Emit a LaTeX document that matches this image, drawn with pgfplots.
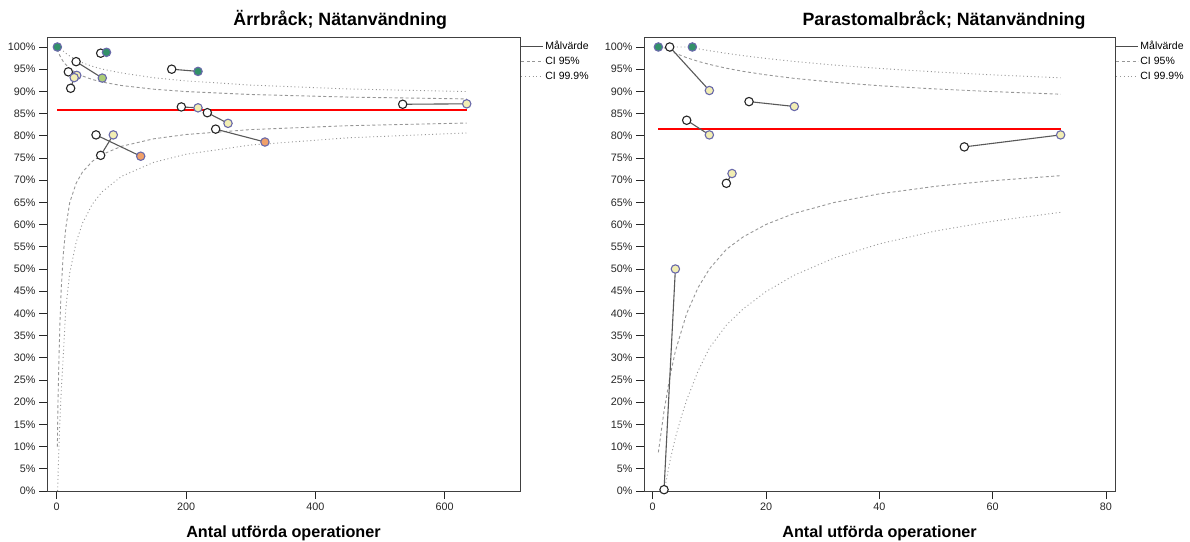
\documentclass[border=0pt]{standalone}
\usepackage{fontspec}
\setmainfont{Liberation Sans}
\usepackage{pgfplots}
\pgfplotsset{compat=1.18}
\definecolor{cgreen}{RGB}{50,145,105}
\definecolor{clgreen}{RGB}{172,205,120}
\definecolor{cyellow}{RGB}{242,238,180}
\definecolor{corange}{RGB}{240,160,105}
\definecolor{cedge}{RGB}{105,105,170}
\definecolor{cigray}{RGB}{150,150,150}
\pgfplotsset{
  myaxis/.style={
    scale only axis, height=454pt, ymin=0, ymax=102.25,
    axis line style={black!75, line width=0.9pt},
    tick style={black!85, line width=0.9pt},
    major tick length=8pt, tick align=outside, tick pos=left,
    ytick={0,5,...,100},
    yticklabel={\pgfmathprintnumber{\tick}\%},
    /pgf/number format/assume math mode=true,
    ticklabel style={font=\fontsize{10.8}{12}\selectfont, text=black!85},
    xlabel style={font=\bfseries\fontsize{16.2}{18}\selectfont, at={(axis description cs:0.5,0)}, anchor=base, yshift=-46pt},
    title style={font=\bfseries\fontsize{17.8}{20}\selectfont, anchor=base, yshift=5pt},
    xlabel={Antal utförda operationer},
    legend style={at={(1,1)}, anchor=north west, draw=none, fill=none,
      inner sep=0pt, outer sep=0pt, yshift=-3pt, xshift=1pt,
      font=\fontsize{10.5}{12}\selectfont, row sep=2pt,
      nodes={inner sep=1.5pt, text height=8pt, text depth=2pt}},
    legend cell align=left,
    legend image code/.code={\draw[##1] (0pt,0pt) -- (22pt,0pt);},
  },
  ci95/.style={draw=cigray, line width=0.9pt, dash pattern=on 3pt off 2.5pt, no markers},
  ci999/.style={draw=cigray, line width=0.9pt, dash pattern=on 1pt off 2.7pt, no markers},
  target/.style={draw=red, line width=1.4pt, no markers},
  pairl/.style={draw=black!65, line width=1.1pt, no markers},
  wm/.style={only marks, mark=*, mark size=4.2pt, mark options={fill=white, draw=black!85, line width=1.1pt}},
  cm/.style={only marks, mark=*, mark size=4.2pt, mark options={fill=#1, draw=cedge, line width=1.1pt}},
}
\begin{document}
\begin{tikzpicture}
\path[use as bounding box] (0pt,0pt) rectangle (1190pt,541pt);
% ---------------- left -----------------
\begin{axis}[myaxis, at={(47pt,50pt)}, anchor=south west, width=473pt,
  xmin=-15, xmax=716.4, xtick={0,200,400,600},
  title={Ärrbråck; Nätanvändning}, title style={at={(0.62,1)}}]
\addlegendimage{draw=black!70, line width=0.9pt}
\addlegendentry{Målvärde}
\addlegendimage{ci95}
\addlegendentry{CI 95\%}
\addlegendimage{ci999}
\addlegendentry{CI 99.9\%}
\addplot[ci95, forget plot] coordinates {(1,10)(2,20)(3,27)(5,38)(7,45.5)(10,53)(14,59.2)(20,64.88)(30,69.29)(40,71.87)(55,74.24)(70,75.76)(100,77.63)(150,79.32)(200,80.29)(300,81.40)(450,82.27)(634,82.87)};
\addplot[ci95, forget plot] coordinates {(1,99.51)(2,99.07)(3,98.69)(5,98.02)(7,97.46)(10,96.77)(14,96.03)(20,95.18)(30,94.18)(40,93.46)(55,92.68)(70,92.11)(100,91.32)(150,90.49)(200,89.96)(300,89.30)(450,88.72)(634,88.30)};
\addplot[ci999, forget plot] coordinates {(1.5,0)(2,3)(3,8)(5,16)(7,22.5)(10,30)(14,41)(20,49.02)(30,55.98)(40,60.35)(55,64.58)(70,67.36)(100,70.85)(150,74.02)(200,75.84)(300,77.92)(450,79.54)(634,80.64)};
\addplot[ci999, forget plot] coordinates {(1,100)(3,100)(5,99.9)(7,99.5)(10,99.1)(14,98.6)(20,97.98)(30,97.12)(40,96.45)(55,95.65)(70,95.03)(100,94.16)(150,93.07)(200,92.36)(300,91.42)(450,90.55)(634,89.96)};
\addplot[target, forget plot] coordinates {(1,85.8)(634,85.8)};
% pair lines
\addplot[pairl, forget plot] coordinates {(68,98.6)(77,98.8)};
\addplot[pairl, forget plot] coordinates {(30,96.7)(70.5,93.0)};
\addplot[pairl, forget plot] coordinates {(18,94.4)(31,93.6)};
\addplot[pairl, forget plot] coordinates {(21.6,90.7)(27,93.1)};
\addplot[pairl, forget plot] coordinates {(177.8,95.0)(218.5,94.5)};
\addplot[pairl, forget plot] coordinates {(192.7,86.5)(218.5,86.3)};
\addplot[pairl, forget plot] coordinates {(232.9,85.2)(264.9,82.8)};
\addplot[pairl, forget plot] coordinates {(245.8,81.5)(322,78.6)};
\addplot[pairl, forget plot] coordinates {(60.8,80.2)(129.9,75.4)};
\addplot[pairl, forget plot] coordinates {(68,75.6)(87.5,80.2)};
\addplot[pairl, forget plot] coordinates {(535,87.1)(634,87.2)};
% previous (white)
\addplot[wm, forget plot] coordinates {(68,98.6)(30,96.7)(18,94.4)(21.6,90.7)(177.8,95.0)(192.7,86.5)(232.9,85.2)(245.8,81.5)(60.8,80.2)(68,75.6)(535,87.1)};
% current (coloured)
\addplot[cm=cgreen, forget plot] coordinates {(1,100)(77,98.8)(218.5,94.5)};
\addplot[cm=clgreen, forget plot] coordinates {(70.5,93.0)};
\addplot[cm=cyellow, forget plot] coordinates {(31,93.6)(27,93.1)(218.5,86.3)(264.9,82.8)(87.5,80.2)(634,87.2)};
\addplot[cm=corange, forget plot] coordinates {(322,78.6)(129.9,75.4)};
\end{axis}
% ---------------- right -----------------
\begin{axis}[myaxis, at={(644pt,50pt)}, anchor=south west, width=471pt,
  xmin=-1.536, xmax=81.6, xtick={0,20,40,60,80},
  title={Parastomalbråck; Nätanvändning}, title style={at={(0.637,1)}}]
\addlegendimage{draw=black!70, line width=0.9pt}
\addlegendentry{Målvärde}
\addlegendimage{ci95}
\addlegendentry{CI 95\%}
\addlegendimage{ci999}
\addlegendentry{CI 99.9\%}
\addplot[ci95, forget plot] coordinates {(1,8.7)(2,18)(3,25.5)(4,31.5)(6,40)(8,45.8)(10,50)(13,54.43)(16,57.26)(20,60.03)(25,62.53)(32,64.97)(40,66.92)(50,68.64)(60,69.89)(72,71.02)};
\addplot[ci95, forget plot] coordinates {(1,100)(2,99.84)(3,99.17)(4,98.59)(6,97.59)(8,96.77)(10,96.08)(13,95.22)(16,94.5)(20,93.73)(25,92.93)(32,92.06)(40,91.28)(50,90.54)(60,89.95)(72,89.37)};
\addplot[ci999, forget plot] coordinates {(2.2,1)(3,6.5)(4,12)(5,16.5)(6,20.5)(8,27)(10,32.2)(13,37.36)(16,41.04)(20,44.91)(25,48.61)(32,52.46)(40,55.66)(50,58.58)(60,60.76)(72,62.76)};
\addplot[ci999, forget plot] coordinates {(1,100)(6,100)(8,99.6)(10,99.17)(13,98.57)(16,98.04)(20,97.42)(25,96.74)(32,95.93)(40,95.17)(50,94.38)(60,93.72)(72,93.06)};
\addplot[target, forget plot] coordinates {(1,81.5)(72,81.5)};
\addplot[pairl, forget plot] coordinates {(3,100)(10,90.2)};
\addplot[pairl, forget plot] coordinates {(17,87.7)(25,86.6)};
\addplot[pairl, forget plot] coordinates {(6,83.5)(10,80.2)};
\addplot[pairl, forget plot] coordinates {(13,69.3)(14,71.5)};
\addplot[pairl, forget plot] coordinates {(2,0.3)(4,50)};
\addplot[pairl, forget plot] coordinates {(55,77.5)(72,80.2)};
\addplot[wm, forget plot] coordinates {(3,100)(17,87.7)(6,83.5)(13,69.3)(2,0.3)(55,77.5)};
\addplot[cm=cgreen, forget plot] coordinates {(1,100)(7,100)};
\addplot[cm=cyellow, forget plot] coordinates {(10,90.2)(25,86.6)(10,80.2)(14,71.5)(4,50)(72,80.2)};
\end{axis}
\end{tikzpicture}
\end{document}
